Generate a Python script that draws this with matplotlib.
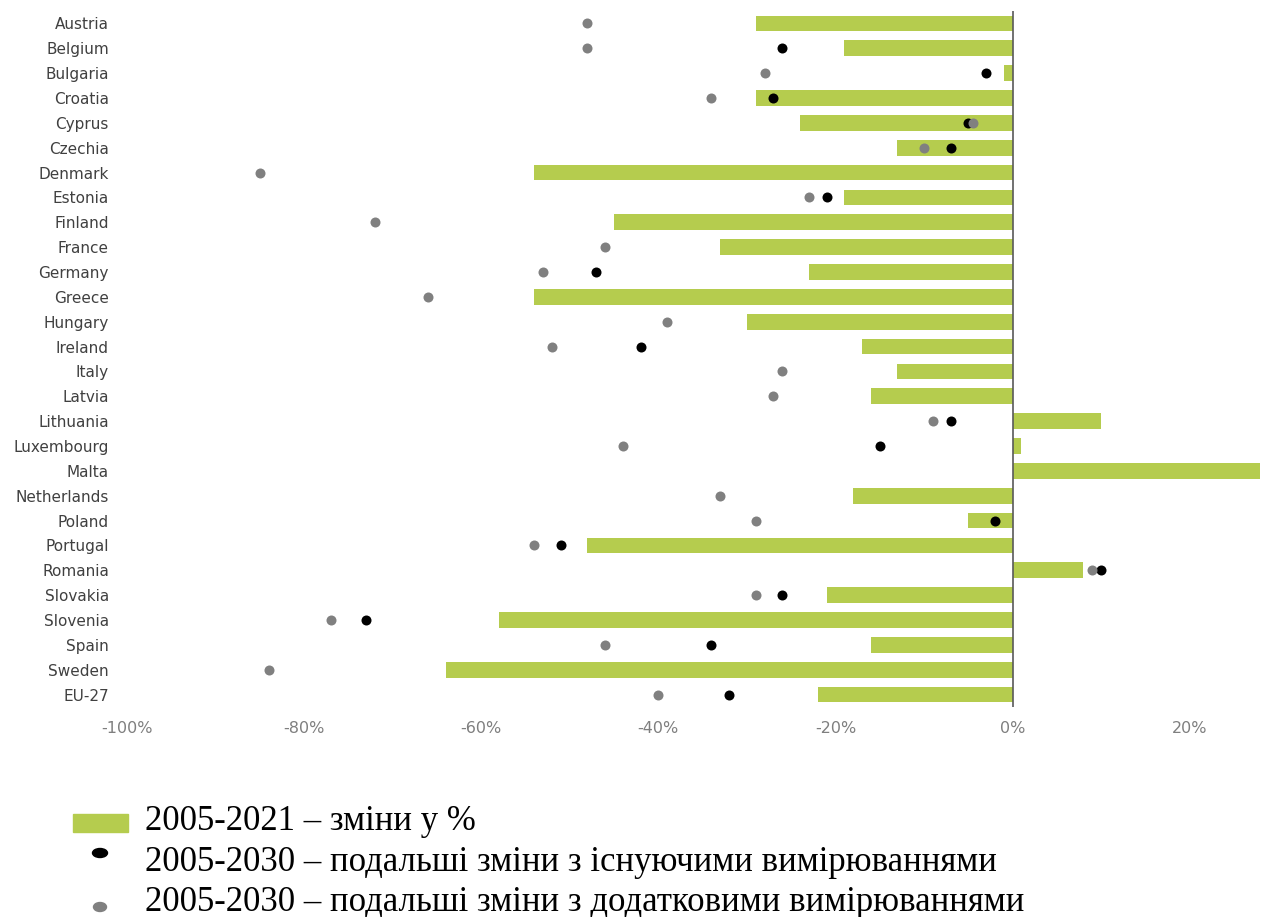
import numpy as np
import matplotlib
matplotlib.use("Agg")
import matplotlib.pyplot as plt
from matplotlib.patches import Rectangle, Ellipse

countries = ["Austria", "Belgium", "Bulgaria", "Croatia", "Cyprus", "Czechia", "Denmark",
             "Estonia", "Finland", "France", "Germany", "Greece", "Hungary", "Ireland",
             "Italy", "Latvia", "Lithuania", "Luxembourg", "Malta", "Netherlands", "Poland",
             "Portugal", "Romania", "Slovakia", "Slovenia", "Spain", "Sweden", "EU-27"]

change_2005_2021 = [-29, -19, -1, -29, -24, -13, -54, -19, -45, -33, -23, -54, -30, -17,
                    -13, -16, 10, 1, 28, -18, -5, -48, 8, -21, -58, -16, -64, -22]

nan = np.nan
wem_2030 = [nan, -26, -3, -27, -5, -7, nan, -21, nan, nan, -47, nan, nan, -42,
            nan, nan, -7, -15, nan, nan, -2, -51, 10, -26, -73, -34, nan, -32]

wam_2030 = [-48, -48, -28, -34, -4.5, -10, -85, -23, -72, -46, -53, -66, -39, -52,
            -26, -27, -9, -44, nan, -33, -29, -54, 9, -29, -77, -46, -84, -40]

xticks = [-100, -80, -60, -40, -20, 0, 20]
xtick_labels = ["-100%", "-80%", "-60%", "-40%", "-20%", "0%", "20%"]

legend_labels = ["2005-2021 \u2013 зміни у %",
                 "2005-2030 \u2013 подальші зміни з існуючими вимірюваннями",
                 "2005-2030 \u2013 подальші зміни з додатковими вимірюваннями"]

GREEN = "#b5cc4e"
GRAY = "#808080"

fig = plt.figure(figsize=(12.64, 9.17), dpi=100)
ax = fig.add_axes([0.1005, 0.229, 0.8995, 0.759])

y = np.arange(len(countries))
ax.barh(y, change_2005_2021, height=0.63, color=GREEN, zorder=2)
ax.scatter(wem_2030, y, s=52, color="black", zorder=3, linewidths=0)
ax.scatter(wam_2030, y, s=52, color=GRAY, zorder=4, linewidths=0)

ax.set_xlim(-100, 28.4)
ax.set_ylim(len(countries) - 0.5, -0.5)
ax.axvline(0, color="#595959", lw=1.2, zorder=5)

for s in ax.spines.values():
    s.set_visible(False)
ax.set_yticks(y)
ax.set_yticklabels(countries, fontsize=11, color="#404040")
ax.set_xticks(xticks)
ax.set_xticklabels(xtick_labels, fontsize=11.5, color="#7f7f7f")
ax.tick_params(axis="both", length=0)
ax.tick_params(axis="y", pad=13)
ax.tick_params(axis="x", pad=10)

# legend
fig.patches.append(Rectangle((73 / 1264, 1 - 832 / 917), 55 / 1264, 18 / 917,
                             transform=fig.transFigure, color=GREEN))
fig.patches.append(Ellipse((100 / 1264, 1 - 853 / 917), 15 / 1264, 9 / 917,
                           transform=fig.transFigure, color="black"))
fig.patches.append(Ellipse((100 / 1264, 1 - 907 / 917), 13 / 1264, 9 / 917,
                           transform=fig.transFigure, color=GRAY))
baselines = [830, 871, 911]
for lab, b in zip(legend_labels, baselines):
    fig.text(145 / 1264, 1 - b / 917, lab, fontsize=25,
             family=["Liberation Serif", "DejaVu Serif"], va="baseline", ha="left",
             color="black")

fig.savefig("out.png", dpi=100)
